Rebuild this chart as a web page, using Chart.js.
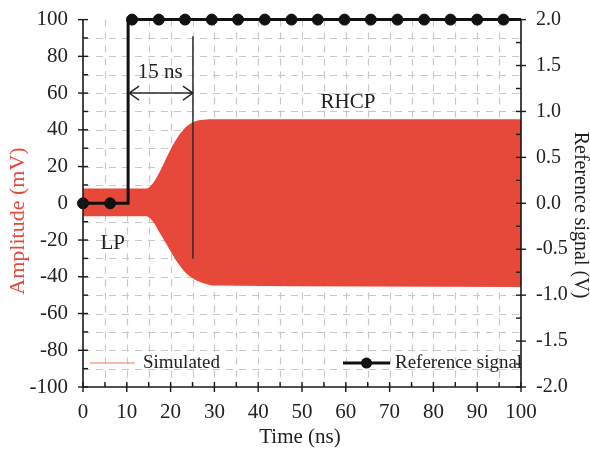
<!DOCTYPE html>
<html>
<head>
<meta charset="utf-8">
<script src="https://cdn.jsdelivr.net/npm/chart.js@4.4.1/dist/chart.umd.min.js"></script>
<style>
  html, body { margin: 0; padding: 0; background: #fff; }
  #wrap { width: 590px; height: 449px; }
</style>
</head>
<body>
<div id="wrap"><canvas id="c" width="590" height="449"></canvas></div>
<script>
// Envelope of the simulated field amplitude (mV) versus time (ns)
const envTime  = [0, 14.5, 16, 17.5, 19.5, 21.5, 23.5, 25.5, 27.5, 30, 100];
const simUpper = [8, 8, 11, 17, 27, 35.5, 41.5, 44.5, 45.5, 45.8, 45.8];
const simLower = [-7, -7, -10, -16, -24, -32, -38, -41.5, -43.5, -44.8, -45.5];

// Reference signal (V): switching path and sampled markers
const refTime = [0, 6.2, 10.3, 10.3, 100];
const refVolt = [0, 0, 0, 2, 2];
const sampleTime = [0, 6.2, 11.2, 17.3, 23.3, 29.4, 35.4, 41.5, 47.6, 53.6, 59.7, 65.7, 71.8, 77.9, 83.9, 90.0, 96.0];
const sampleVolt = [0, 0, 2, 2, 2, 2, 2, 2, 2, 2, 2, 2, 2, 2, 2, 2, 2];

// Axis ticks
const timeTicks = [0, 10, 20, 30, 40, 50, 60, 70, 80, 90, 100];
const ampTicks = [-100, -80, -60, -40, -20, 0, 20, 40, 60, 80, 100];
const voltTicks = [-2.0, -1.5, -1.0, -0.5, 0.0, 0.5, 1.0, 1.5, 2.0];

// Annotation values
const delayStart = 10.3, delayEnd = 25.1, delayLevel = 60;
const markerTop = 91, markerBottom = -30;

const SERIF = '"Liberation Serif", "Times New Roman", serif';
const RED = '#e6493a';

const pts = (xs, ys) => xs.map((x, i) => ({ x: x, y: ys[i] }));

const gridAndFrame = {
  id: 'gridAndFrame',
  beforeDatasetsDraw(chart) {
    const { ctx, chartArea: a, scales } = chart;
    const xs = scales.x, ys = scales.y;
    ctx.save();
    ctx.strokeStyle = '#c8c8c8';
    ctx.lineWidth = 1.2;
    ctx.setLineDash([7, 6]);
    for (let v = 5; v < 100; v += 5) {
      const px = Math.round(xs.getPixelForValue(v)) + 0.5;
      ctx.beginPath(); ctx.moveTo(px, a.top); ctx.lineTo(px, a.bottom); ctx.stroke();
    }
    for (let v = -90; v < 100; v += 10) {
      const py = Math.round(ys.getPixelForValue(v)) + 0.5;
      ctx.beginPath(); ctx.moveTo(a.left, py); ctx.lineTo(a.right, py); ctx.stroke();
    }
    ctx.restore();
  },
  afterDatasetsDraw(chart) {
    const { ctx, chartArea: a, scales } = chart;
    const xs = scales.x, ys = scales.y, y2 = scales.y2;
    ctx.save();
    ctx.strokeStyle = '#1a1a1a';
    ctx.lineWidth = 1.6;
    ctx.beginPath();
    ctx.moveTo(a.left, a.top); ctx.lineTo(a.left, a.bottom);
    ctx.lineTo(a.right, a.bottom); ctx.lineTo(a.right, a.top);
    ctx.stroke();
    ctx.lineWidth = 1.4;
    // bottom axis ticks
    for (let v = 0; v <= 100; v += 5) {
      const px = xs.getPixelForValue(v);
      const major = v % 10 === 0;
      ctx.beginPath();
      ctx.moveTo(px, a.bottom + (major ? 5 : 0));
      ctx.lineTo(px, a.bottom - 5);
      ctx.stroke();
    }
    // left axis ticks
    for (let v = -100; v <= 100; v += 10) {
      const py = ys.getPixelForValue(v);
      const major = v % 20 === 0;
      ctx.beginPath();
      ctx.moveTo(a.left - (major ? 5 : 0), py);
      ctx.lineTo(a.left + 5, py);
      ctx.stroke();
    }
    // right axis ticks
    for (let v = -2; v <= 2.001; v += 0.25) {
      const py = y2.getPixelForValue(v);
      const major = Math.abs(v * 2 - Math.round(v * 2)) < 1e-6;
      ctx.beginPath();
      ctx.moveTo(a.right + (major ? 5 : 0), py);
      ctx.lineTo(a.right - 5, py);
      ctx.stroke();
    }
    ctx.restore();
  },
  afterDraw(chart) {
    const { ctx, chartArea: a, scales } = chart;
    const xs = scales.x, ys = scales.y;
    ctx.save();
    // delay marker: vertical line and double-headed arrow
    ctx.strokeStyle = '#2a2a2a';
    ctx.lineWidth = 1.5;
    const xe = xs.getPixelForValue(delayEnd);
    ctx.beginPath();
    ctx.moveTo(xe, ys.getPixelForValue(markerTop));
    ctx.lineTo(xe, ys.getPixelForValue(markerBottom));
    ctx.stroke();
    const xa = xs.getPixelForValue(delayStart) + 1, ya = ys.getPixelForValue(delayLevel);
    ctx.beginPath();
    ctx.moveTo(xa, ya); ctx.lineTo(xe, ya);
    ctx.moveTo(xa + 10, ya - 7); ctx.lineTo(xa, ya); ctx.lineTo(xa + 10, ya + 7);
    ctx.moveTo(xe - 10, ya - 7); ctx.lineTo(xe, ya); ctx.lineTo(xe - 10, ya + 7);
    ctx.stroke();

    ctx.fillStyle = '#222';
    ctx.font = '21px ' + SERIF;
    ctx.textAlign = 'center';
    ctx.textBaseline = 'middle';
    ctx.fillText('15 ns', xs.getPixelForValue(17.6), ys.getPixelForValue(71));
    ctx.fillText('RHCP', xs.getPixelForValue(60.5), ys.getPixelForValue(55));
    ctx.fillText('LP', xs.getPixelForValue(6.8), ys.getPixelForValue(-22));

    // legend
    ctx.font = '19px ' + SERIF;
    const ly = ys.getPixelForValue(-87);
    ctx.textAlign = 'left';
    ctx.strokeStyle = '#f2a390';
    ctx.lineWidth = 1.5;
    ctx.beginPath(); ctx.moveTo(a.left + 7, ly); ctx.lineTo(a.left + 52, ly); ctx.stroke();
    ctx.fillText('Simulated', a.left + 60, ly);
    ctx.strokeStyle = '#111';
    ctx.lineWidth = 3;
    ctx.beginPath(); ctx.moveTo(343, ly); ctx.lineTo(390, ly); ctx.stroke();
    ctx.fillStyle = '#111';
    ctx.beginPath(); ctx.arc(366.5, ly, 5.5, 0, Math.PI * 2); ctx.fill();
    ctx.fillStyle = '#222';
    ctx.fillText('Reference signal', 395, ly);

    // axis titles
    ctx.font = '21px ' + SERIF;
    ctx.textAlign = 'center';
    ctx.fillText('Time (ns)', (a.left + a.right) / 2 - 2, 437);
    ctx.save();
    ctx.translate(18, 221);
    ctx.rotate(-Math.PI / 2);
    ctx.fillStyle = RED;
    ctx.font = '22px ' + SERIF;
    ctx.fillText('Amplitude (mV)', 0, 0);
    ctx.restore();
    ctx.save();
    ctx.translate(580, 215);
    ctx.rotate(Math.PI / 2);
    ctx.font = '20px ' + SERIF;
    ctx.fillText('Reference signal (V)', 0, 0);
    ctx.restore();
    ctx.restore();
  }
};

new Chart(document.getElementById('c'), {
  type: 'line',
  data: {
    datasets: [
      {
        label: 'Simulated',
        data: pts(envTime, simUpper),
        yAxisID: 'y',
        order: 3,
        borderWidth: 0,
        borderColor: RED,
        backgroundColor: RED,
        pointRadius: 0,
        cubicInterpolationMode: 'monotone',
        fill: '+1'
      },
      {
        label: 'Simulated lower',
        data: pts(envTime, simLower),
        yAxisID: 'y',
        order: 4,
        borderWidth: 0,
        borderColor: RED,
        backgroundColor: RED,
        pointRadius: 0,
        cubicInterpolationMode: 'monotone',
        fill: false
      },
      {
        label: 'Reference signal',
        data: pts(refTime, refVolt),
        yAxisID: 'y2',
        order: 1,
        borderColor: '#111',
        borderWidth: 3,
        pointRadius: 0,
        tension: 0,
        fill: false,
        clip: false
      },
      {
        label: 'Reference samples',
        data: pts(sampleTime, sampleVolt),
        yAxisID: 'y2',
        order: 0,
        showLine: false,
        pointRadius: 5.5,
        pointBackgroundColor: '#111',
        pointBorderColor: '#111',
        fill: false,
        clip: false
      }
    ]
  },
  options: {
    responsive: false,
    animation: false,
    layout: { padding: { top: 19, left: 0, right: 0, bottom: 0 } },
    plugins: { legend: { display: false }, tooltip: { enabled: false } },
    scales: {
      x: {
        type: 'linear', min: 0, max: 100,
        afterBuildTicks: s => { s.ticks = timeTicks.map(v => ({ value: v })); },
        afterFit: s => { s.height = 62; },
        grid: { display: false }, border: { display: false },
        ticks: { color: '#222', font: { family: SERIF, size: 21 }, padding: 5, maxRotation: 0 }
      },
      y: {
        type: 'linear', position: 'left', min: -100, max: 100,
        afterBuildTicks: s => { s.ticks = ampTicks.map(v => ({ value: v })); },
        afterFit: s => { s.width = 83; },
        grid: { display: false }, border: { display: false },
        ticks: { color: '#222', font: { family: SERIF, size: 21 }, padding: 7 }
      },
      y2: {
        type: 'linear', position: 'right', min: -2, max: 2,
        afterBuildTicks: s => { s.ticks = voltTicks.map(v => ({ value: v })); },
        afterFit: s => { s.width = 69; },
        grid: { display: false }, border: { display: false },
        ticks: { color: '#222', font: { family: SERIF, size: 20 }, padding: 7,
                 callback: v => Number(v).toFixed(1) }
      }
    }
  },
  plugins: [gridAndFrame]
});
</script>
</body>
</html>
